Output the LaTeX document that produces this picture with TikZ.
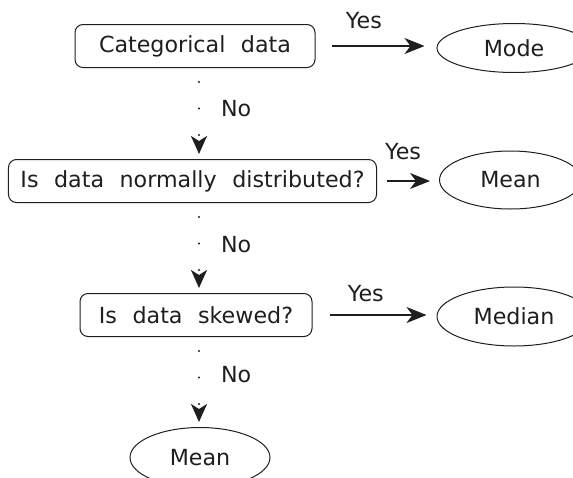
\documentclass[tikz,border=0pt]{standalone}
\usepackage{fontspec}
\setmainfont{DejaVu Sans}[WordSpace=2.2]
\usetikzlibrary{positioning,arrows.meta,shapes.geometric}
\definecolor{inkgray}{RGB}{30,30,30}

\begin{document}
\begin{tikzpicture}[
  font=\fontsize{22.2}{25}\selectfont,
  >={Stealth[length=20pt, width=16pt, inset=6pt]},
  query/.style={rounded corners=8pt, draw=inkgray, line width=1pt, text=inkgray,
               minimum height=43pt, inner xsep=12pt, inner ysep=0pt},
  answer/.style={ellipse, draw=inkgray, line width=1pt, text=inkgray, inner sep=0pt},
  yes/.style={text=inkgray, inner sep=0pt},
  no/.style={text=inkgray, inner sep=0pt, right=21pt},
  yesarrow/.style={->, line width=1.2pt, draw=inkgray},
  noarrow/.style={-{Stealth[length=18pt, width=16pt, inset=5pt]}, line width=2.2pt,
               draw=inkgray, line cap=round, dash pattern=on 0pt off 26.5pt,
               dash phase=12.5pt, shorten >=5pt},
]
\useasboundingbox (0,0) rectangle (573pt,-477pt);

% ---- question boxes down the left ----
\node[query, minimum width=240pt] (cat) at (195pt,-46pt) {Categorical data};
\node[query, minimum width=365pt, below=91pt of cat, xshift=-2.5pt] (norm) {Is data normally distributed?};
\node[query, minimum width=232pt, below=90pt of norm, xshift=3.5pt] (skew) {Is data skewed?};
\node[answer, minimum width=140pt, minimum height=60pt, below=90pt of skew, xshift=4pt] (meanlow) {Mean};

% ---- answers on the right ----
\node[answer, minimum width=154pt, minimum height=49pt, right=121pt of cat, yshift=-2pt] (mode) {Mode};
\node[answer, minimum width=142pt, minimum height=58pt, right=62pt of norm, yshift=1pt] (meanhigh) {Mean};
\node[answer, minimum width=154pt, minimum height=59pt, right=124pt of skew, yshift=-1.5pt] (median) {Median};

% ---- yes branches ----
\draw[yesarrow, shorten <=16pt, shorten >=12pt] (cat.east) -- node[yes, pos=0.40, above=17pt]{Yes} (cat.east -| mode.west);
\draw[yesarrow, shorten <=10pt, shorten >=9pt] (norm.east) -- node[yes, pos=0.42, above=21pt]{Yes} (norm.east -| meanhigh.west);
\draw[yesarrow, shorten <=17pt, shorten >=10pt] (skew.east) -- node[yes, pos=0.43, above=13pt]{Yes} (skew.east -| median.west);

% ---- no branches (dotted spine) ----
\coordinate (spine) at (199pt,0);
\draw[noarrow] (cat.south -| spine) -- node[no, pos=0.45]{No} (norm.north -| spine);
\draw[noarrow] (norm.south -| spine) -- node[no, pos=0.46]{No} (skew.north -| spine);
\draw[noarrow] (skew.south -| spine) -- node[no, pos=0.42]{No} (meanlow.north -| spine);

\end{tikzpicture}
\end{document}
